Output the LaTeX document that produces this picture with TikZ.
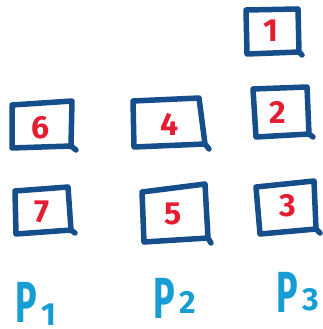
\documentclass[tikz,border=0pt]{standalone}
\usepackage{fontspec}
\setmainfont{Fira Sans}
\definecolor{boxblue}{RGB}{22,78,140}
\definecolor{numred}{RGB}{228,30,48}
\definecolor{pcyan}{RGB}{22,158,212}
\tikzset{
  stroke/.style={draw=boxblue,line width=5.5pt,line cap=round,line join=round},
  num/.style={text=numred,font=\fontsize{32}{32}\selectfont\bfseries,inner sep=0pt},
  plabel/.style={text=pcyan,font=\fontsize{58}{58}\selectfont\bfseries,inner sep=0pt,anchor=base west},
}
\newcommand{\pletter}{\scalebox{0.62}[1]{P}}
\newcommand{\subnum}[2]{\hspace{5pt}\raisebox{#1}{\fontsize{32}{32}\selectfont #2}}
\begin{document}
\begin{tikzpicture}[x=1pt,y=-1pt]
\useasboundingbox (0,0) rectangle (322,329);
% column 1
\draw[stroke] (12,105) -- (72,101) -- (71,146) -- (12,148) -- cycle (71,146) -- (76,150);
\node[num] (n6) at (41,128) {6};
\draw[stroke] (15,191) -- (68,187) -- (71,230) -- (16,234) -- cycle (71,230) -- (75,233);
\node[num] (n7) at (42,212) {7};
% column 2
\draw[stroke] (133,101) -- (199,98) -- (205,144) -- (134,147) -- cycle (205,144) -- (209,149);
\node[num] (n4) at (170,124) {4};
\draw[stroke] (142,192) -- (205,184) -- (208,238) -- (144,242) -- cycle (208,238) -- (211,243);
\node[num] (n5) at (173,214) {5};
% column 3
\draw[stroke] (246,10) -- (298,9) -- (299,52) -- (247,54) -- cycle (299,52) -- (302,55);
\node[num] (n1) at (271,31) {1};
\draw[stroke] (253,89) -- (307,87) -- (309,134) -- (256,137) -- cycle (309,134) -- (313,137);
\node[num] (n2) at (278,112) {2};
\draw[stroke] (256,187) -- (314,181) -- (316,229) -- (260,234) -- cycle (316,229) -- (320,233);
\node[num] (n3) at (288,206) {3};
% labels
\node[plabel] (p1) at (15,322) {\pletter\subnum{-3pt}{1}};
\node[plabel] (p2) at (153,318) {\pletter\subnum{5pt}{2}};
\node[plabel] (p3) at (276,312) {\pletter\subnum{2pt}{3}};
\end{tikzpicture}
\end{document}
